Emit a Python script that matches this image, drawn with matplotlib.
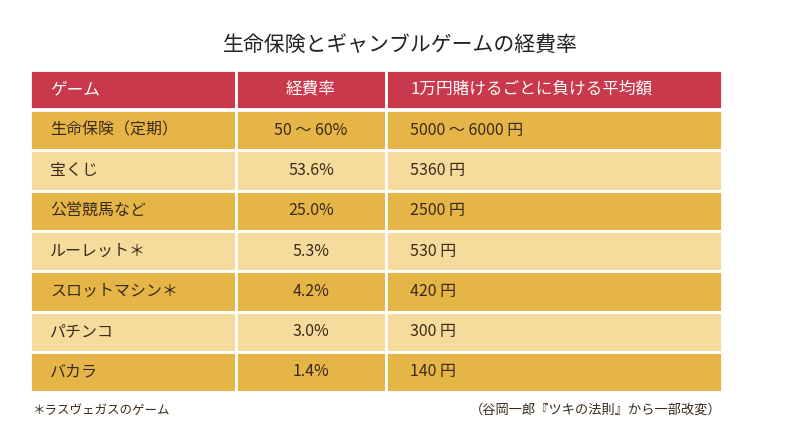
import matplotlib.pyplot as plt
from matplotlib.patches import Rectangle

plt.rcParams['font.family'] = 'Noto Sans CJK JP'

title = '生命保険とギャンブルゲームの経費率'
headers = ['ゲーム', '経費率', '1万円賭けるごとに負ける平均額']
games = ['生命保険（定期）', '宝くじ', '公営競馬など', 'ルーレット＊', 'スロットマシン＊', 'パチンコ', 'バカラ']
rates = ['50 〜 60%', '53.6%', '25.0%', '5.3%', '4.2%', '3.0%', '1.4%']
losses = ['5000 〜 6000 円', '5360 円', '2500 円', '530 円', '420 円', '300 円', '140 円']
note_left = '＊ラスヴェガスのゲーム'
note_right = '（谷岡一郎『ツキの法則』から一部改変）'

fig = plt.figure(figsize=(8, 4.44), dpi=100)
ax = fig.add_axes([0, 0, 1, 1])
ax.set_xlim(0, 800)
ax.set_ylim(444, 0)
ax.axis('off')

col_x = [30, 236, 386, 722]
header_top, header_h = 70, 39
row_h = 40.3
red = '#c9394b'
dark = '#e6b547'
light = '#f6dc9c'
txt = '#3a2a1a'

ax.text(400, 45, title, ha='center', va='center', fontsize=15, color='#222222')

for c in range(3):
    ax.add_patch(Rectangle((col_x[c], header_top), col_x[c + 1] - col_x[c], header_h,
                           facecolor=red, edgecolor='white', lw=2))
ax.text(50, header_top + header_h / 2, headers[0], color='white', fontsize=12, va='center')
ax.text(311, header_top + header_h / 2, headers[1], color='white', fontsize=12, va='center', ha='center')
ax.text(410, header_top + header_h / 2, headers[2], color='white', fontsize=12, va='center')

top = header_top + header_h + 1
for i, (g, r, l) in enumerate(zip(games, rates, losses)):
    y = top + i * row_h
    fc = dark if i % 2 == 0 else light
    for c in range(3):
        ax.add_patch(Rectangle((col_x[c], y), col_x[c + 1] - col_x[c], row_h,
                               facecolor=fc, edgecolor='white', lw=2))
    cy = y + row_h / 2
    ax.text(50, cy, g, fontsize=11.5, va='center', color=txt)
    ax.text(311, cy, r, fontsize=11.5, va='center', ha='center', color=txt)
    ax.text(410, cy, l, fontsize=11.5, va='center', color=txt)

ax.text(32, 410, note_left, fontsize=9, va='center', color=txt)
ax.text(722, 410, note_right, fontsize=9.5, va='center', ha='right', color=txt)

fig.savefig('out.png', dpi=100, facecolor='white')
